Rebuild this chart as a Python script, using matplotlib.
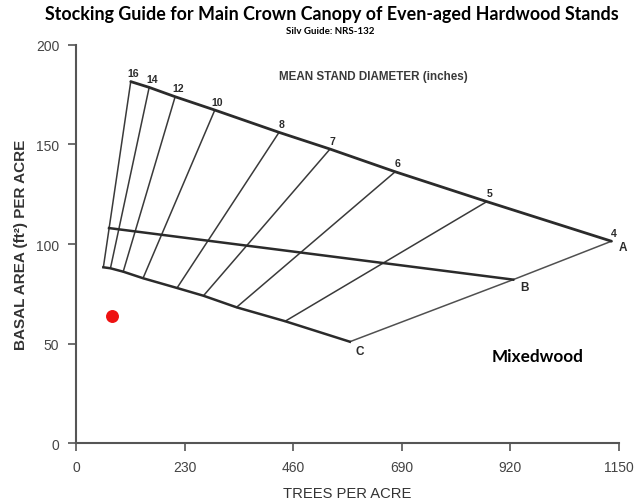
import matplotlib
matplotlib.use("Agg")
import matplotlib.pyplot as plt

# stocking chart values
diameters = ["16", "14", "12", "10", "8", "7", "6", "5", "4"]
a_tpa = [116, 155, 210, 294, 430, 538, 676, 870, 1134]
a_ba = [181.6, 178.7, 174.0, 167.3, 156.1, 147.7, 136.3, 121.3, 101.4]
c_tpa = [58, 73, 100, 142, 214, 270, 340, 443, 580]
c_ba = [88.3, 87.8, 86.1, 82.8, 77.9, 74.0, 68.2, 61.2, 50.9]
b_tpa = [70, 926]
b_ba = [108.0, 82.1]
stand_tpa = [77]
stand_ba = [64]
x_ticks = [0, 230, 460, 690, 920, 1150]
y_ticks = [0, 50, 100, 150, 200]

dark = "#2b2b2b"
grey = "#555555"

fig = plt.figure(figsize=(6.39, 5.02), dpi=100)
ax = fig.add_axes([0.1189, 0.1155, 0.8498, 0.7929])

# diameter lines between A and C lines
for i in range(len(diameters) - 1):
    ax.plot([a_tpa[i], c_tpa[i]], [a_ba[i], c_ba[i]], color="#3a3a3a", lw=1.1)
# right boundary A-B-C
ax.plot([a_tpa[-1], b_tpa[-1], c_tpa[-1]], [a_ba[-1], b_ba[-1], c_ba[-1]],
        color="#505050", lw=1.1)
ax.plot(a_tpa, a_ba, color=dark, lw=2.0, solid_capstyle="round")
ax.plot(b_tpa, b_ba, color=dark, lw=1.8)
ax.plot(c_tpa, c_ba, color=dark, lw=1.8)

for d, x, y in zip(diameters, a_tpa, a_ba):
    ax.annotate(d, (x, y), xytext=(2, 6), textcoords="offset points",
                ha="center", va="center", fontsize=7.6, fontweight="bold",
                color=dark, family="Liberation Sans")

for lab, x, y, off in [("A", a_tpa[-1], a_ba[-1], (8, -4.5)),
                       ("B", b_tpa[-1], b_ba[-1], (8, -5)),
                       ("C", c_tpa[-1], c_ba[-1], (7, -6.5))]:
    ax.annotate(lab, (x, y), xytext=off, textcoords="offset points",
                ha="center", va="center", fontsize=8.5, fontweight="bold",
                color=dark, family="Liberation Sans")

ax.text(629, 184.4, "MEAN STAND DIAMETER (inches)", ha="center", va="center",
        fontsize=8.4, fontweight="bold", color="#3a3a3a", family="Liberation Sans")
ax.text(977, 43.6, "Mixedwood", ha="center", va="center", fontsize=12.3,
        fontweight="bold", color="black", family="Lato")

ax.plot(stand_tpa, stand_ba, "o", color="#ee1111", markersize=8.3)

ax.set_xlim(0, 1150)
ax.set_ylim(0, 200)
ax.set_xticks(x_ticks)
ax.set_yticks(y_ticks)
for s in ["top", "right"]:
    ax.spines[s].set_visible(False)
for s in ["left", "bottom"]:
    ax.spines[s].set_color(grey)
    ax.spines[s].set_linewidth(1.5)
ax.tick_params(colors=grey, width=1.2, length=6, labelsize=10, pad=6)
for t in ax.get_xticklabels() + ax.get_yticklabels():
    t.set_family("Liberation Sans")
    t.set_color("#444444")

ax.set_xlabel("TREES PER ACRE", fontsize=10.6, color="#333333", labelpad=9,
              family="Liberation Sans")
ax.set_ylabel("BASAL AREA (ft²) PER ACRE", fontsize=11, fontweight="bold",
              color="#333333", labelpad=6, family="Liberation Sans")

fig.text(0.52, 0.972, "Stocking Guide for Main Crown Canopy of Even-aged Hardwood Stands",
         ha="center", va="center", fontsize=12.9, fontweight="bold", family="Lato")
fig.text(0.517, 0.938, "Silv Guide: NRS-132", ha="center", va="center",
         fontsize=7, fontweight="bold", family="Lato")

fig.savefig("out.png", dpi=100)
